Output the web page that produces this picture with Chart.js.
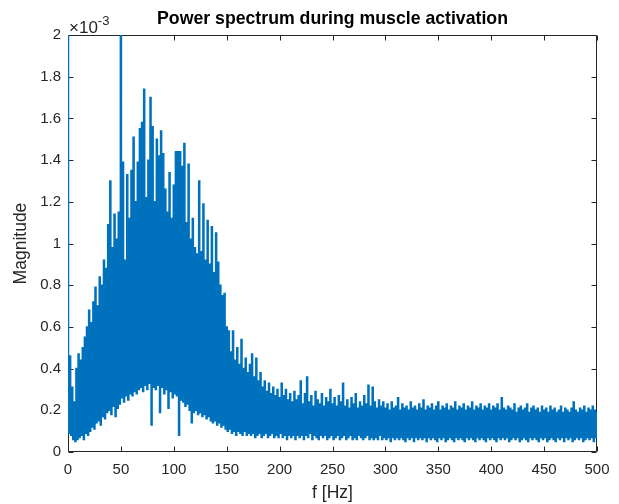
<!DOCTYPE html>
<html>
<head>
<meta charset="utf-8">
<script src="https://cdn.jsdelivr.net/npm/chart.js@4.4.1/dist/chart.umd.min.js"></script>
<style>
  html, body { margin: 0; padding: 0; background: #fff; }
  #wrap { width: 619px; height: 504px; }
</style>
</head>
<body>
<div id="wrap"><canvas id="spectrum" width="619" height="504"></canvas></div>
<script>
// spectrum bins are 1 Hz apart, values in units of 1e-3
var freqStep = 1;
var magnitude = [
  2.4, 0.09, 0.46, 0.08, 0.31, 0.06, 0.24, 0.05, 0.40, 0.06,
  0.47, 0.07, 0.44, 0.08, 0.50, 0.06, 0.55, 0.09, 0.60, 0.08,
  0.68, 0.10, 0.62, 0.12, 0.72, 0.11, 0.79, 0.14, 0.70, 0.15,
  0.84, 0.13, 0.80, 0.17, 0.92, 0.16, 0.88, 0.19, 1.09, 0.20,
  1.30, 0.18, 0.98, 0.22, 1.14, 0.17, 1.02, 0.21, 1.15, 0.23,
  2.30, 0.26, 1.39, 0.24, 0.92, 0.27, 1.33, 0.25, 1.12, 0.28,
  1.35, 0.27, 1.51, 0.29, 1.20, 0.28, 1.39, 0.30, 1.55, 0.31,
  1.58, 0.29, 1.74, 0.32, 1.22, 0.30, 1.40, 0.33, 1.70, 0.13,
  1.56, 0.31, 1.20, 0.30, 1.50, 0.32, 1.42, 0.19, 1.54, 0.31,
  1.43, 0.28, 1.26, 0.30, 1.15, 0.21, 1.34, 0.29, 1.12, 0.26,
  1.28, 0.28, 1.44, 0.27, 1.44, 0.08, 1.44, 0.25, 1.37, 0.24,
  1.48, 0.22, 1.10, 0.23, 1.38, 0.20, 1.02, 0.14, 1.12, 0.19,
  0.98, 0.20, 0.95, 0.18, 1.30, 0.19, 0.96, 0.17, 1.19, 0.18,
  0.92, 0.16, 1.11, 0.17, 0.90, 0.15, 1.08, 0.14, 0.86, 0.15,
  1.05, 0.13, 0.91, 0.14, 0.80, 0.12, 0.75, 0.13, 0.76, 0.11,
  0.60, 0.10, 0.58, 0.11, 0.48, 0.09, 0.58, 0.10, 0.44, 0.08,
  0.50, 0.10, 0.42, 0.09, 0.54, 0.08, 0.40, 0.10, 0.45, 0.08,
  0.38, 0.09, 0.42, 0.08, 0.47, 0.09, 0.36, 0.07, 0.45, 0.08,
  0.34, 0.09, 0.38, 0.07, 0.31, 0.08, 0.34, 0.09, 0.29, 0.07,
  0.33, 0.08, 0.28, 0.09, 0.31, 0.07, 0.27, 0.08, 0.30, 0.07,
  0.26, 0.09, 0.33, 0.07, 0.27, 0.08, 0.30, 0.06, 0.25, 0.08,
  0.28, 0.07, 0.24, 0.08, 0.29, 0.06, 0.25, 0.08, 0.27, 0.07,
  0.34, 0.08, 0.23, 0.06, 0.28, 0.08, 0.36, 0.07, 0.24, 0.09,
  0.27, 0.06, 0.22, 0.08, 0.29, 0.07, 0.25, 0.06, 0.23, 0.08,
  0.28, 0.07, 0.22, 0.08, 0.26, 0.06, 0.24, 0.07, 0.30, 0.08,
  0.23, 0.06, 0.26, 0.07, 0.22, 0.08, 0.27, 0.06, 0.24, 0.07,
  0.33, 0.08, 0.22, 0.06, 0.25, 0.07, 0.21, 0.08, 0.26, 0.06,
  0.23, 0.07, 0.28, 0.06, 0.21, 0.08, 0.24, 0.07, 0.22, 0.06,
  0.27, 0.07, 0.23, 0.08, 0.32, 0.06, 0.22, 0.07, 0.31, 0.06,
  0.24, 0.07, 0.21, 0.06, 0.25, 0.08, 0.22, 0.06, 0.24, 0.07,
  0.21, 0.06, 0.23, 0.07, 0.20, 0.05, 0.24, 0.07, 0.21, 0.06,
  0.22, 0.07, 0.26, 0.06, 0.20, 0.07, 0.23, 0.06, 0.21, 0.05,
  0.22, 0.07, 0.20, 0.06, 0.24, 0.07, 0.21, 0.05, 0.22, 0.07,
  0.20, 0.06, 0.23, 0.07, 0.21, 0.06, 0.25, 0.07, 0.20, 0.05,
  0.22, 0.07, 0.21, 0.06, 0.23, 0.07, 0.20, 0.06, 0.22, 0.05,
  0.24, 0.07, 0.20, 0.06, 0.22, 0.07, 0.21, 0.05, 0.23, 0.06,
  0.20, 0.07, 0.22, 0.06, 0.21, 0.05, 0.24, 0.07, 0.20, 0.06,
  0.22, 0.07, 0.21, 0.06, 0.23, 0.05, 0.20, 0.07, 0.22, 0.06,
  0.21, 0.07, 0.24, 0.06, 0.20, 0.05, 0.22, 0.07, 0.21, 0.06,
  0.23, 0.07, 0.20, 0.06, 0.22, 0.05, 0.21, 0.07, 0.23, 0.06,
  0.20, 0.07, 0.22, 0.06, 0.21, 0.05, 0.23, 0.07, 0.20, 0.06,
  0.26, 0.07, 0.21, 0.06, 0.20, 0.07, 0.22, 0.05, 0.21, 0.06,
  0.20, 0.07, 0.23, 0.06, 0.19, 0.07, 0.21, 0.05, 0.22, 0.06,
  0.20, 0.07, 0.21, 0.06, 0.23, 0.05, 0.19, 0.07, 0.21, 0.06,
  0.22, 0.07, 0.20, 0.06, 0.21, 0.05, 0.19, 0.07, 0.22, 0.06,
  0.20, 0.07, 0.21, 0.05, 0.19, 0.06, 0.22, 0.07, 0.20, 0.06,
  0.21, 0.05, 0.19, 0.07, 0.20, 0.06, 0.22, 0.07, 0.19, 0.05,
  0.21, 0.07, 0.20, 0.06, 0.19, 0.07, 0.21, 0.05, 0.24, 0.06,
  0.20, 0.07, 0.19, 0.06, 0.21, 0.07, 0.20, 0.05, 0.22, 0.06,
  0.19, 0.07, 0.21, 0.06, 0.20, 0.07, 0.22, 0.05, 0.20, 0.07,
  0.19
];
var xTicks = [0, 50, 100, 150, 200, 250, 300, 350, 400, 450, 500];
var yTicks = [0, 0.2, 0.4, 0.6, 0.8, 1, 1.2, 1.4, 1.6, 1.8, 2];

var points = magnitude.map(function (v, i) { return { x: i * freqStep, y: v }; });

var font = "'Liberation Sans', Arial, Helvetica, sans-serif";
var axisColor = '#262626';

// MATLAB-style box with inward ticks and the x10^-3 exponent label
var matlabAxes = {
  id: 'matlabAxes',
  beforeDatasetsDraw: function (chart) {
    var ctx = chart.ctx, a = chart.chartArea;
    var xs = chart.scales.x, ys = chart.scales.y;
    var L = Math.round(a.left) + 0.5, R = Math.round(a.right) - 0.5;
    var T = Math.round(a.top) + 0.5, B = Math.round(a.bottom) - 0.5;
    ctx.save();
    ctx.strokeStyle = axisColor;
    ctx.lineWidth = 1;
    ctx.beginPath();
    ctx.rect(L, T, R - L, B - T);
    xTicks.forEach(function (t) {
      var px = Math.round(xs.getPixelForValue(t)) + 0.5;
      ctx.moveTo(px, B); ctx.lineTo(px, B - 5);
      ctx.moveTo(px, T); ctx.lineTo(px, T + 5);
    });
    yTicks.forEach(function (t) {
      var py = Math.round(ys.getPixelForValue(t)) + 0.5;
      ctx.moveTo(L, py); ctx.lineTo(L + 5, py);
      ctx.moveTo(R, py); ctx.lineTo(R - 5, py);
    });
    ctx.stroke();

    ctx.fillStyle = axisColor;
    ctx.textBaseline = 'alphabetic';
    ctx.textAlign = 'left';
    ctx.font = '17px ' + font;
    var base = '\u00d710';
    ctx.fillText(base, a.left + 1, a.top - 2);
    var w = ctx.measureText(base).width;
    ctx.font = '13px ' + font;
    ctx.fillText('-3', a.left + 1 + w, a.top - 10);
    ctx.restore();
  }
};

new Chart(document.getElementById('spectrum'), {
  type: 'line',
  data: {
    datasets: [{
      data: points,
      borderColor: '#0072BD',
      borderWidth: 1.5,
      pointRadius: 0,
      stepped: 'middle',
      fill: false
    }]
  },
  options: {
    responsive: false,
    animation: false,
    events: [],
    layout: { padding: { right: 22 } },
    plugins: {
      legend: { display: false },
      tooltip: { enabled: false },
      title: {
        display: true,
        fullSize: false,
        text: 'Power spectrum during muscle activation',
        color: '#000',
        font: { family: font, size: 17.7, weight: 'bold', lineHeight: 1.2 },
        padding: { top: 8.5, bottom: 5.3 }
      }
    },
    scales: {
      x: {
        type: 'linear',
        min: 0,
        max: 500,
        afterFit: function (s) { s.height = 52; },
        afterBuildTicks: function (s) { s.ticks = xTicks.map(function (v) { return { value: v }; }); },
        grid: { display: false, drawTicks: false },
        border: { display: false },
        ticks: { color: axisColor, font: { family: font, size: 15 }, padding: 9, maxRotation: 0 },
        title: {
          display: true,
          text: 'f [Hz]',
          color: axisColor,
          font: { family: font, size: 17.5, lineHeight: 1.2 },
          padding: { top: 0, bottom: 0.5 }
        }
      },
      y: {
        min: 0,
        max: 2,
        afterFit: function (s) { s.width = 68; },
        afterBuildTicks: function (s) { s.ticks = yTicks.map(function (v) { return { value: v }; }); },
        grid: { display: false, drawTicks: false },
        border: { display: false },
        ticks: {
          color: axisColor,
          font: { family: font, size: 15 },
          padding: 7,
          callback: function (v) { return String(parseFloat(v.toFixed(1))); }
        },
        title: {
          display: true,
          text: 'Magnitude',
          color: axisColor,
          font: { family: font, size: 17.5, lineHeight: 1.2 },
          padding: { top: 11, bottom: 0 }
        }
      }
    }
  },
  plugins: [matlabAxes]
});
</script>
</body>
</html>
